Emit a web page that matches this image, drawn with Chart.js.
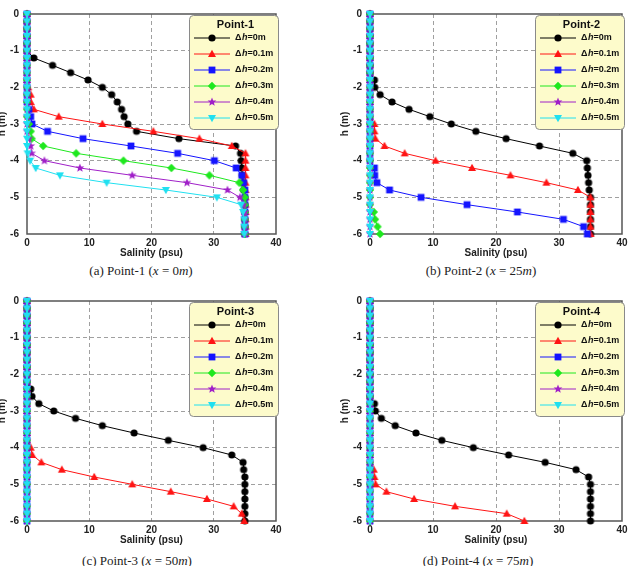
<!DOCTYPE html>
<html>
<head>
<meta charset="utf-8">
<script src="https://cdn.jsdelivr.net/npm/chart.js@4.4.1/dist/chart.umd.min.js"></script>
<style>
  body { margin: 0; background: #fff; width: 634px; height: 566px; overflow: hidden; position: relative; }
  canvas { position: absolute; }
  .cap { position: absolute; font-family: "Liberation Serif", "DejaVu Serif", serif; font-size: 13px; color: #222;
         white-space: nowrap; transform: translateX(-50%); line-height: 16px; }
  .cap i { font-style: italic; }
</style>
</head>
<body>
<canvas id="c1" width="317" height="262" style="left:-26px;top:0"></canvas>
<canvas id="c2" width="317" height="262" style="left:317px;top:0"></canvas>
<canvas id="c3" width="317" height="262" style="left:-26px;top:287px"></canvas>
<canvas id="c4" width="317" height="262" style="left:317px;top:287px"></canvas>
<div class="cap" style="left:141px;top:263px">(a) Point-1 (<i>x</i> = 0<i>m</i>)</div>
<div class="cap" style="left:481px;top:263px">(b) Point-2 (<i>x</i> = 25<i>m</i>)</div>
<div class="cap" style="left:137px;top:553px">(c) Point-3 (<i>x</i> = 50<i>m</i>)</div>
<div class="cap" style="left:478px;top:553px">(d) Point-4 (<i>x</i> = 75<i>m</i>)</div>
<script>
// depth of each sample (m)
const depths = [0, -0.2, -0.4, -0.6, -0.8, -1.0, -1.2, -1.4, -1.6, -1.8, -2.0, -2.2, -2.4, -2.6, -2.8, -3.0,
  -3.2, -3.4, -3.6, -3.8, -4.0, -4.2, -4.4, -4.6, -4.8, -5.0, -5.2, -5.4, -5.6, -5.8, -6.0];
const stepLabels = ["0m", "0.1m", "0.2m", "0.3m", "0.4m", "0.5m"];
const pointTitles = ["Point-1", "Point-2", "Point-3", "Point-4"];
const xTicks = [0, 10, 20, 30, 40];
const yTicks = [-6, -5, -4, -3, -2, -1, 0];

// salinity (psu), one value per depth
const zeros = [0, 0, 0, 0, 0, 0, 0, 0, 0, 0, 0, 0, 0, 0, 0, 0, 0, 0, 0, 0, 0, 0, 0, 0, 0, 0, 0, 0, 0, 0, 0];

// Point-1
const p1_00 = [0, 0, 0, 0, 0, 0, 1.1, 4.1, 7.0, 9.8, 12.1, 13.6, 14.5, 15.2, 15.6, 16.2, 17.6, 24.4, 33.5, 34.3, 34.4, 34.5, 34.6, 34.7, 34.8, 35.0, 35.0, 35.0, 35.0, 35.0, 35.0];
const p1_01 = [0, 0, 0, 0, 0, 0, 0, 0, 0, 0, 0.2, 0.6, 0.6, 1.1, 5.1, 12.1, 20.3, 27.7, 32.9, 35.1, 35.1, 35.1, 35.1, 35.1, 35.1, 35.1, 35.1, 35.1, 35.1, 35.1, 35.1];
const p1_02 = [0, 0, 0, 0, 0, 0, 0, 0, 0, 0, 0, 0, 0, 0.3, 0.6, 0.8, 3.3, 9.0, 16.7, 24.2, 30.1, 33.6, 34.5, 34.8, 35.0, 35.0, 35.0, 35.0, 35.0, 35.0, 35.0];
const p1_03 = [0, 0, 0, 0, 0, 0, 0, 0, 0, 0, 0, 0, 0, 0, 0, 0.3, 0.6, 0.75, 2.6, 7.9, 15.5, 23.2, 29.3, 34.1, 34.7, 35.0, 35.0, 35.0, 35.0, 35.0, 35.0];
const p1_04 = [0, 0, 0, 0, 0, 0, 0, 0, 0, 0, 0, 0, 0, 0, 0, 0, 0, 0.3, 0.6, 0.75, 2.8, 8.5, 16.9, 25.7, 32.2, 34.2, 34.8, 35.0, 35.0, 35.0, 35.0];
const p1_05 = [0, 0, 0, 0, 0, 0, 0, 0, 0, 0, 0, 0, 0, 0, 0, 0, 0, 0, 0, 0.1, 0.5, 1.4, 5.3, 12.8, 22.3, 30.5, 34.4, 34.7, 34.9, 34.9, 34.9];

// Point-2
const p2_00 = [0, 0, 0, 0, 0, 0, 0, 0, 0, 0.7, 0.75, 1.6, 3.5, 6.2, 9.5, 12.9, 16.8, 21.6, 26.9, 32.2, 34.4, 34.5, 34.6, 34.7, 34.8, 35.0, 35.0, 35.0, 35.0, 35.0, 35.0];
const p2_01 = [0, 0, 0, 0, 0, 0, 0, 0, 0, 0, 0, 0, 0, 0, 0, 0.7, 0.7, 0.85, 2.3, 5.5, 10.4, 16.2, 22.3, 28.0, 33.0, 35.0, 35.0, 35.0, 35.0, 35.0, 35.0];
const p2_02 = [0, 0, 0, 0, 0, 0, 0, 0, 0, 0, 0, 0, 0, 0, 0, 0, 0, 0, 0, 0, 0, 0.7, 0.75, 1.1, 3.1, 8.1, 15.4, 23.4, 30.7, 33.9, 34.5];
const p2_03 = [0, 0, 0, 0, 0, 0, 0, 0, 0, 0, 0, 0, 0, 0, 0, 0, 0, 0, 0, 0, 0, 0, 0, 0, 0, 0, 0, 0.6, 0.8, 1.2, 1.6];
const p2_04 = zeros;
const p2_05 = zeros;

// Point-3
const p3_00 = [0, 0, 0, 0, 0, 0, 0, 0, 0, 0, 0, 0, 0.6, 0.8, 1.9, 4.3, 7.8, 12.1, 17.2, 22.7, 28.3, 32.9, 34.7, 34.8, 35.0, 35.0, 35.0, 35.0, 35.0, 35.0, 35.0];
const p3_01 = [0, 0, 0, 0, 0, 0, 0, 0, 0, 0, 0, 0, 0, 0, 0, 0, 0, 0, 0, 0, 0.6, 0.85, 2.3, 5.6, 10.8, 16.9, 23.1, 28.9, 33.2, 34.5, 34.9];
const p3_02 = zeros;
const p3_03 = zeros;
const p3_04 = zeros;
const p3_05 = zeros;

// Point-4
const p4_00 = [0, 0, 0, 0, 0, 0, 0, 0, 0, 0, 0, 0, 0, 0, 0.7, 0.85, 1.8, 4.0, 7.3, 11.4, 16.4, 22.0, 27.8, 32.7, 34.7, 35.0, 35.0, 35.0, 35.0, 35.0, 35.0];
const p4_01 = [0, 0, 0, 0, 0, 0, 0, 0, 0, 0, 0, 0, 0, 0, 0, 0, 0, 0, 0, 0, 0, 0, 0, 0.6, 0.7, 0.9, 2.6, 7.0, 13.5, 21.7, 24.5];
const p4_02 = zeros;
const p4_03 = zeros;
const p4_04 = zeros;
const p4_05 = zeros;

const colors = ["#000000", "#ff1414", "#1414ff", "#1ee81e", "#a020c8", "#20e0f0"];
const shapes = ["circle", "triangle", "square", "diamond", "star", "triangleDown"];

function makeMarker(shape, color) {
  const c = document.createElement("canvas");
  c.width = 10; c.height = 10;
  const g = c.getContext("2d");
  g.fillStyle = color;
  g.translate(5, 5);
  g.beginPath();
  if (shape === "circle") {
    g.arc(0, 0, 3.6, 0, Math.PI * 2);
  } else if (shape === "triangle") {
    g.moveTo(0, -4.2); g.lineTo(4, 3); g.lineTo(-4, 3);
  } else if (shape === "triangleDown") {
    g.moveTo(0, 4.2); g.lineTo(4, -3); g.lineTo(-4, -3);
  } else if (shape === "square") {
    g.rect(-3.4, -3.4, 6.8, 6.8);
  } else if (shape === "diamond") {
    g.moveTo(0, -4.2); g.lineTo(4.2, 0); g.lineTo(0, 4.2); g.lineTo(-4.2, 0);
  } else if (shape === "star") {
    for (let k = 0; k < 10; k++) {
      const r = k % 2 ? 2 : 4.6;
      const a = -Math.PI / 2 + k * Math.PI / 5;
      g.lineTo(r * Math.cos(a), r * Math.sin(a));
    }
  }
  g.closePath();
  g.fill();
  return c;
}
const markers = shapes.map((s, i) => makeMarker(s, colors[i]));

const tickFont = { family: "'Liberation Sans', Arial, sans-serif", size: 10, weight: "bold" };

const framePlugin = {
  id: "frame",
  beforeDatasetsDraw(chart) {
    const { ctx, chartArea: a } = chart;
    ctx.save();
    ctx.strokeStyle = "#555";
    ctx.lineWidth = 1.5;
    ctx.strokeRect(a.left, a.top, a.right - a.left, a.bottom - a.top);
    ctx.restore();
  }
};

const boxLegend = {
  id: "boxLegend",
  afterDatasetsDraw(chart, args, opts) {
    const { ctx, chartArea: a } = chart;
    const w = 89, h = 114;
    const x0 = a.right - w + 2, y0 = a.top + 1;
    ctx.save();
    ctx.beginPath();
    ctx.roundRect(x0 + 0.5, y0 + 0.5, w, h, 4);
    ctx.fillStyle = "#fdfbcb";
    ctx.fill();
    ctx.strokeStyle = "#8a8a8a";
    ctx.lineWidth = 1;
    ctx.stroke();

    ctx.fillStyle = "#111";
    ctx.textBaseline = "middle";
    ctx.textAlign = "center";
    ctx.font = "bold 11px 'Liberation Sans', Arial, sans-serif";
    ctx.fillText(opts.title, x0 + w / 2 + 2, y0 + 10);

    ctx.textAlign = "left";
    chart.data.datasets.forEach((ds, i) => {
      const y = y0 + 23 + i * 16;
      ctx.strokeStyle = ds.borderColor;
      ctx.lineWidth = 1;
      ctx.beginPath();
      ctx.moveTo(x0 + 5, y);
      ctx.lineTo(x0 + 41, y);
      ctx.stroke();
      const m = ds.pointStyle;
      ctx.drawImage(m, x0 + 23 - m.width / 2, y - m.height / 2);
      let tx = x0 + 46;
      ctx.fillStyle = "#111";
      ctx.font = "bold 9px 'Liberation Sans', Arial, sans-serif";
      ctx.fillText("\u0394", tx, y);
      tx += ctx.measureText("\u0394").width + 0.5;
      ctx.font = "italic bold 9px 'Liberation Sans', Arial, sans-serif";
      ctx.fillText("h", tx, y);
      tx += ctx.measureText("h").width;
      ctx.font = "bold 9px 'Liberation Sans', Arial, sans-serif";
      ctx.fillText("=" + stepLabels[i], tx, y);
    });
    ctx.restore();
  }
};

function makeChart(id, title, series, rightPad) {
  new Chart(document.getElementById(id), {
    type: "line",
    data: {
      datasets: series.map((vals, i) => ({
        label: "\u0394h=" + stepLabels[i],
        data: vals.map((v, k) => ({ x: v, y: depths[k] })),
        borderColor: colors[i],
        backgroundColor: colors[i],
        borderWidth: 1,
        pointStyle: markers[i],
        pointRadius: 4,
        order: 5 - i,
        clip: false,
        tension: 0
      }))
    },
    options: {
      responsive: false,
      animation: false,
      layout: { padding: { top: 7, right: rightPad, bottom: 0, left: 0 } },
      scales: {
        x: {
          type: "linear", min: 0, max: 40,
          afterBuildTicks: s => { s.ticks = xTicks.map(v => ({ value: v })); },
          afterFit: s => { s.height = 28; },
          ticks: { padding: 3, font: tickFont, color: "#222" },
          grid: {
            drawTicks: false, lineWidth: 1,
            color: c => (c.tick && (c.tick.value === 0 || c.tick.value === 40)) ? "rgba(0,0,0,0)" : "#a0a0a0"
          },
          border: { display: false, dash: [4, 3] },
          title: { display: true, text: "Salinity (psu)", font: tickFont, color: "#222", padding: { top: 0, bottom: 3 } }
        },
        y: {
          type: "linear", min: -6, max: 0,
          afterBuildTicks: s => { s.ticks = yTicks.map(v => ({ value: v })); },
          afterFit: s => { s.width = 53; },
          ticks: { padding: 8, font: tickFont, color: "#222" },
          grid: {
            drawTicks: false, lineWidth: 1,
            color: c => (c.tick && (c.tick.value === 0 || c.tick.value === -6)) ? "rgba(0,0,0,0)" : "#a0a0a0"
          },
          border: { display: false, dash: [4, 3] },
          title: { display: true, text: "h (m)", font: tickFont, color: "#222", padding: { top: 22, bottom: 0 } }
        }
      },
      plugins: {
        legend: { display: false },
        tooltip: { enabled: false },
        boxLegend: { title: title }
      }
    },
    plugins: [framePlugin, boxLegend]
  });
}

makeChart("c1", pointTitles[0], [p1_00, p1_01, p1_02, p1_03, p1_04, p1_05], 15);
makeChart("c2", pointTitles[1], [p2_00, p2_01, p2_02, p2_03, p2_04, p2_05], 12);
makeChart("c3", pointTitles[2], [p3_00, p3_01, p3_02, p3_03, p3_04, p3_05], 15);
makeChart("c4", pointTitles[3], [p4_00, p4_01, p4_02, p4_03, p4_04, p4_05], 12);
</script>
</body>
</html>
